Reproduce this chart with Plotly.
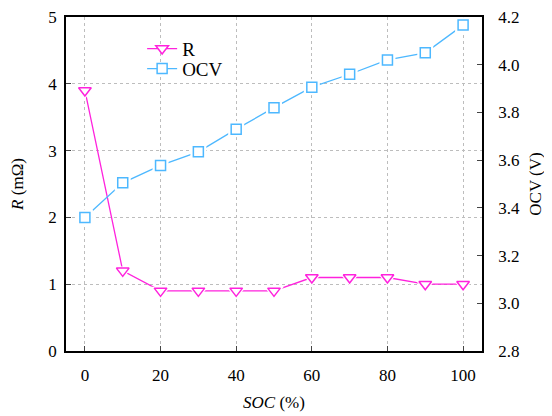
import plotly.graph_objects as go

soc = [0, 10, 20, 30, 40, 50, 60, 70, 80, 90, 100]
r_vals = [3.9, 1.2, 0.9, 0.9, 0.9, 0.9, 1.1, 1.1, 1.1, 1.0, 1.0]
ocv_vals = [3.36, 3.505, 3.578, 3.635, 3.73, 3.82, 3.906, 3.96, 4.02, 4.05, 4.166]

x_ticks = [0, 20, 40, 60, 80, 100]
y1_ticks = [0, 1, 2, 3, 4, 5]
y2_ticks = [2.8, 3.0, 3.2, 3.4, 3.6, 3.8, 4.0, 4.2]

FONT = "Liberation Serif"
MAG = "#ff22dd"
CYAN = "#4db8ff"
GRID = "#bdbdbd"
TF = dict(family=FONT, size=17, color="black")

series = [
    dict(name="R", y=r_vals, color=MAG, symbol="triangle-down", size=11,
         yaxis="y", legend="legend"),
    dict(name="OCV", y=ocv_vals, color=CYAN, symbol="square", size=10,
         yaxis="y2", legend="legend2"),
]

fig = go.Figure()
# lines (with legend entries)
for s in series:
    fig.add_trace(go.Scatter(
        x=soc, y=s["y"], name=s["name"], mode="lines+markers",
        line=dict(color=s["color"], width=1.3),
        marker=dict(symbol=s["symbol"], size=s["size"], color="white",
                    line=dict(color=s["color"], width=1.5)),
        yaxis=s["yaxis"], legend=s["legend"]))
# white halos to leave a small gap between line and marker
for s in series:
    fig.add_trace(go.Scatter(
        x=soc, y=s["y"], mode="markers", showlegend=False, hoverinfo="skip",
        marker=dict(symbol=s["symbol"], size=s["size"] + 6, color="white",
                    line=dict(width=0)),
        yaxis=s["yaxis"]))
# markers on top
for s in series:
    fig.add_trace(go.Scatter(
        x=soc, y=s["y"], mode="markers", showlegend=False,
        marker=dict(symbol=s["symbol"], size=s["size"], color="white",
                    line=dict(color=s["color"], width=1.5)),
        yaxis=s["yaxis"]))

leg_common = dict(xanchor="left", yanchor="middle", bgcolor="rgba(0,0,0,0)",
                  font=dict(size=19, family=FONT, color="black"), itemwidth=30)

fig.update_layout(
    width=544, height=408,
    margin=dict(l=58, r=70, t=9, b=65, autoexpand=False),
    paper_bgcolor="white", plot_bgcolor="white",
    font=TF,
    showlegend=True,
    legend=dict(x=0.183, y=0.905, **leg_common),
    legend2=dict(x=0.183, y=0.845, **leg_common),
    xaxis=dict(range=[-5, 105], tickvals=x_ticks, ticks="inside", ticklen=5,
               tickfont=TF, ticklabeloverflow="allow", ticklabelstandoff=8,
               showline=True, linecolor="black", linewidth=1.5, mirror=True,
               showgrid=True, gridcolor=GRID, griddash="dot", gridwidth=1,
               zeroline=False, automargin=False,
               title=dict(text="<i>SOC</i> (%)", font=TF, standoff=12)),
    yaxis=dict(range=[0, 5], tickvals=y1_ticks, ticks="inside", ticklen=5,
               tickfont=TF, ticklabeloverflow="allow", ticklabelstandoff=4,
               showline=True, linecolor="black", linewidth=1.5, mirror=True,
               showgrid=True, gridcolor=GRID, griddash="dot", gridwidth=1,
               zeroline=False, automargin=False,
               title=dict(text="<i>R</i> (mΩ)", font=TF, standoff=22)),
    yaxis2=dict(range=[2.8, 4.2], tickvals=y2_ticks, tickformat=".1f",
                tickfont=TF, ticklabeloverflow="allow", ticklabelstandoff=11,
                ticks="inside", ticklen=5, overlaying="y", side="right",
                showline=True, linecolor="black", linewidth=1.5,
                showgrid=False, zeroline=False, automargin=False,
                title=dict(text="OCV (V)", font=TF, standoff=10)),
)

fig.write_html("out.html")
